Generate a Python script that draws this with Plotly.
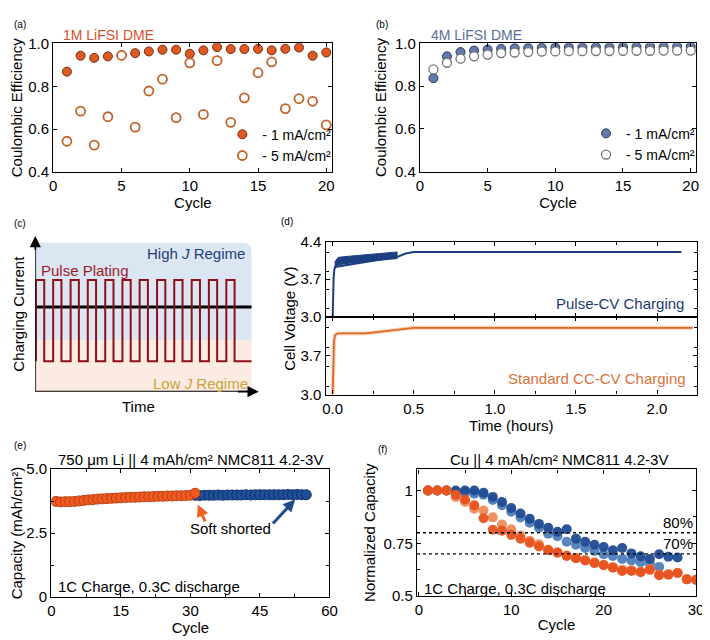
import plotly.graph_objects as go

# the page body adds an 8px margin, so positions below are screen pixels minus OFF
OFF = 8
W, H = 710 - OFF, 640 - OFF
FONT = "Liberation Sans"

# ---- (a) 1M LiFSI DME
cycles_ab = list(range(1, 21))
ce_1m_1ma = [0.868, 0.942, 0.932, 0.939, 0.944, 0.954, 0.962, 0.970, 0.970, 0.951,
             0.967, 0.982, 0.973, 0.973, 0.974, 0.967, 0.974, 0.980, 0.942, 0.957]
ce_1m_5ma = [0.544, 0.684, 0.526, 0.658, 0.944, 0.610, 0.778, 0.833, 0.654, 0.909,
             0.669, 0.919, 0.632, 0.746, 0.863, 0.913, 0.696, 0.742, 0.730, 0.620]

# ---- (b) 4M LiFSI DME
ce_4m_1ma = [0.837, 0.939, 0.959, 0.966, 0.971, 0.974, 0.977, 0.978, 0.979, 0.980,
             0.981, 0.981, 0.982, 0.982, 0.983, 0.983, 0.984, 0.984, 0.985, 0.985]
ce_4m_5ma = [0.878, 0.909, 0.928, 0.939, 0.947, 0.954, 0.957, 0.959, 0.961, 0.962,
             0.963, 0.963, 0.964, 0.964, 0.965, 0.965, 0.965, 0.966, 0.966, 0.966]

# ---- (c) schematic pulse plating
pulse_on = [0.03, 0.80, 1.58, 2.35, 3.13, 3.90, 4.67, 5.45, 6.22, 7.00, 7.77, 8.55]
pulse_off = [0.40, 1.17, 1.95, 2.72, 3.50, 4.27, 5.04, 5.82, 6.59, 7.37, 8.14, 8.92]
pulse_end = 9.68
j_high, j_low, j_avg = 7.17, 1.96, 5.44

# ---- (d) voltage profiles
t_band = [0.012, 0.035, 0.1, 0.2, 0.3, 0.4]
v_band_hi = [4.02, 4.11, 4.13, 4.16, 4.18, 4.21]
v_band_lo = [3.88, 3.96, 3.99, 4.02, 4.05, 4.08]
t_pulse = [0.0, 0.002, 0.006, 0.01, 0.015, 0.4, 0.45, 0.5, 2.15]
v_pulse = [3.0, 3.4, 3.75, 3.88, 3.93, 4.12, 4.18, 4.21, 4.21]
t_cccv = [0.0, 0.003, 0.008, 0.015, 0.03, 0.1, 0.2, 0.3, 0.4, 0.5, 0.6, 2.22]
v_cccv = [3.0, 3.6, 3.95, 4.07, 4.10, 4.10, 4.10, 4.13, 4.17, 4.20, 4.20, 4.20]

# ---- (e) 750 um Li capacity
cyc_e_orange = list(range(1, 32))
cap_e_orange = [3.74, 3.72, 3.73, 3.73, 3.74, 3.76, 3.78, 3.80, 3.81, 3.83, 3.84,
                3.85, 3.86, 3.87, 3.88, 3.89, 3.90, 3.90, 3.91, 3.92, 3.92, 3.93,
                3.94, 3.94, 3.95, 3.95, 3.96, 3.96, 3.97, 3.98, 4.06]
cyc_e_blue = list(range(31, 56))
cap_e_blue = [3.98, 3.97, 3.98, 3.98, 3.98, 3.99, 3.98, 3.99, 3.99, 3.99, 3.99,
              4.00, 3.99, 4.00, 4.00, 4.00, 4.00, 4.00, 4.00, 4.00, 4.01, 4.00,
              4.01, 4.00, 4.00]

# ---- (f) Cu normalized capacity
cyc_f = list(range(1, 31))
cap_blue_dark = [1.0, 1.0, 1.0, 1.0, 1.0, 1.0, 0.99, 0.97, 0.946, 0.917, 0.891, 0.866,
                 0.842, 0.824, 0.805, 0.817, 0.772, 0.757, 0.743, 0.732, 0.717, 0.728,
                 0.702, 0.688, 0.676, 0.698, 0.686, 0.683]
cap_blue_light = [1.0, 1.0, 1.0, 0.99, 0.99, 0.985, 0.98, 0.955, 0.93, 0.90, 0.872, 0.847,
                  0.824, 0.795, 0.783, 0.757, 0.743, 0.728, 0.713, 0.698, 0.69, 0.676,
                  0.668, 0.66, 0.653, 0.638]
cap_orange = [1.0, 1.0, 1.0, 0.98, 0.958, 0.93, 0.869, 0.814, 0.81, 0.79, 0.772, 0.753,
              0.735, 0.717, 0.705, 0.69, 0.679, 0.668, 0.656, 0.646, 0.634, 0.619,
              0.619, 0.613, 0.624, 0.598, 0.601, 0.609, 0.579, 0.576]
cap_orange_light = [1.0, 1.0, 1.0, 0.97, 0.946, 0.914, 0.906, 0.873, 0.839, 0.817, 0.787,
                    0.762, 0.745, 0.72, 0.708, 0.692, 0.68, 0.67, 0.66, 0.648, 0.638,
                    0.625, 0.622, 0.616, 0.628, 0.602, 0.604, 0.61, 0.58, 0.578]
thresholds = [0.8, 0.7]
threshold_labels = ["80%", "70%"]


def dx(l, r):
    return [(l - OFF) / W, (r - OFF) / W]


def dy(t, b):
    return [1 - (b - OFF) / H, 1 - (t - OFF) / H]


def px(x, y):
    return (x - OFF) / W, 1 - (y - OFF) / H


TF = dict(size=15, color="black")


def ax_style(**kw):
    d = dict(showline=True, linecolor="black", linewidth=1.3, mirror="ticks",
             ticks="inside", ticklen=4, tickcolor="black", showgrid=False,
             zeroline=False, tickfont=dict(size=15, color="black"))
    d.update(kw)
    return d


fig = go.Figure()

# (a)
fig.add_trace(go.Scatter(x=cycles_ab, y=ce_1m_1ma, mode="markers", name="- 1 mA/cm²",
                         marker=dict(size=9, color="#de5a25", line=dict(color="#7a2a0c", width=1)),
                         xaxis="x", yaxis="y", legend="legend"))
fig.add_trace(go.Scatter(x=cycles_ab, y=ce_1m_5ma, mode="markers", name="- 5 mA/cm²",
                         marker=dict(size=9, color="white", line=dict(color="#c0642c", width=1.8)),
                         xaxis="x", yaxis="y", legend="legend"))
# (b)
fig.add_trace(go.Scatter(x=cycles_ab, y=ce_4m_1ma, mode="markers", name="- 1 mA/cm²",
                         marker=dict(size=9, color="#6379a8", line=dict(color="#2c3b5e", width=1)),
                         xaxis="x2", yaxis="y2", legend="legend2"))
fig.add_trace(go.Scatter(x=cycles_ab, y=ce_4m_5ma, mode="markers", name="- 5 mA/cm²",
                         marker=dict(size=9, color="white", line=dict(color="#777777", width=1.3)),
                         xaxis="x2", yaxis="y2", legend="legend2"))

# (c) square wave
wx, wy = [pulse_on[0]], [j_low]
for on, off in zip(pulse_on, pulse_off):
    wx += [on, on, off, off]
    wy += [j_low, j_high, j_high, j_low]
wx.append(pulse_end)
wy.append(j_low)
fig.add_trace(go.Scatter(x=[0.05, pulse_end], y=[j_avg, j_avg], mode="lines",
                         line=dict(color="black", width=3), xaxis="x3", yaxis="y3",
                         showlegend=False))
fig.add_trace(go.Scatter(x=wx, y=wy, mode="lines", line=dict(color="#8c1018", width=2),
                         xaxis="x3", yaxis="y3", showlegend=False))

# (d)
fig.add_trace(go.Scatter(x=t_band, y=v_band_lo, mode="lines", line=dict(width=0, color="#1c3f82"),
                         xaxis="x4", yaxis="y4", showlegend=False))
fig.add_trace(go.Scatter(x=t_band, y=v_band_hi, mode="lines", fill="tonexty",
                         fillcolor="#1c3f82", line=dict(width=1, color="#1c3f82"),
                         xaxis="x4", yaxis="y4", showlegend=False))
fig.add_trace(go.Scatter(x=t_pulse, y=v_pulse, mode="lines", line=dict(width=2, color="#1c3f82"),
                         xaxis="x4", yaxis="y4", showlegend=False))
fig.add_trace(go.Scatter(x=t_cccv, y=v_cccv, mode="lines", line=dict(width=4, color="#f9d6ba"),
                         xaxis="x5", yaxis="y5", showlegend=False))
fig.add_trace(go.Scatter(x=t_cccv, y=v_cccv, mode="lines", line=dict(width=1.8, color="#e0682a"),
                         xaxis="x5", yaxis="y5", showlegend=False))

# (e)
fig.add_trace(go.Scatter(x=cyc_e_blue, y=cap_e_blue, mode="markers",
                         marker=dict(size=10, color="#1f4f99", line=dict(color="#10306a", width=1)),
                         xaxis="x6", yaxis="y6", showlegend=False))
fig.add_trace(go.Scatter(x=cyc_e_orange, y=cap_e_orange, mode="markers",
                         marker=dict(size=10, color="#f05a22", line=dict(color="#b8400f", width=1)),
                         xaxis="x6", yaxis="y6", showlegend=False))

# (f)
for xs, ys, col in [(cyc_f[:len(cap_blue_light)], cap_blue_light, "#4f7dbb"),
                    (cyc_f[:len(cap_blue_dark)], cap_blue_dark, "#1f4b92"),
                    (cyc_f, cap_orange_light, "#f08a58"),
                    (cyc_f, cap_orange, "#e8521e")]:
    fig.add_trace(go.Scatter(x=xs, y=ys, mode="markers",
                             marker=dict(size=10, color=col, opacity=0.95),
                             xaxis="x7", yaxis="y7", showlegend=False))

shapes = [
    # (c) regimes, blue one with a rounded top-right corner
    dict(type="path", xref="x3", yref="y3",
         path="M 0 3.3 L 0 9.56 L 9.3 9.56 Q 9.68 9.56 9.68 9.0 L 9.68 3.3 Z",
         fillcolor="#dce6f2", line=dict(width=0), layer="below"),
    dict(type="rect", xref="x3", yref="y3", x0=0, x1=pulse_end, y0=0, y1=3.3,
         fillcolor="#fcebe2", line=dict(width=0), layer="below"),
    # (c) axes
    dict(type="line", xref="x3", yref="y3", x0=0, x1=9.7, y0=0, y1=0,
         line=dict(color="black", width=1.6)),
    dict(type="line", xref="x3", yref="y3", x0=0, x1=0, y0=0, y1=9.5,
         line=dict(color="black", width=1.6)),
]
annotations = []
for lvl, lab in zip(thresholds, threshold_labels):
    shapes.append(dict(type="line", xref="x7 domain", yref="y7", x0=0, x1=1, y0=lvl, y1=lvl,
                       line=dict(color="black", width=1.3, dash="dot")))
    annotations.append(dict(xref="x7 domain", yref="y7", x=0.995, y=lvl, text=lab,
                            xanchor="right", yanchor="bottom", showarrow=False,
                            font=dict(size=15, color="black")))

# arrow heads of the (c) axes
annotations += [
    dict(xref="x3", yref="y3", axref="x3", ayref="y3", x=10, y=0, ax=9.0, ay=0, text="",
         showarrow=True, arrowhead=2, arrowsize=1.4, arrowwidth=1.6, arrowcolor="black"),
    dict(xref="x3", yref="y3", axref="x3", ayref="y3", x=0, y=10, ax=0, ay=9.0, text="",
         showarrow=True, arrowhead=2, arrowsize=1.4, arrowwidth=1.6, arrowcolor="black"),
]

# (e) arrows
annotations += [
    dict(xref="x6", yref="y6", axref="x6", ayref="y6", x=31.6, y=3.62, ax=33.3, ay=2.9,
         text="", showarrow=True, arrowhead=2, arrowsize=0.8, arrowwidth=3, arrowcolor="#f06020"),
    dict(xref="x6", yref="y6", axref="x6", ayref="y6", x=52.6, y=3.81, ax=47.5, ay=2.82,
         text="", showarrow=True, arrowhead=2, arrowsize=0.8, arrowwidth=3, arrowcolor="#1f4a8c"),
]


def txt(x, y, s, size=15, color="black", xanchor="center", yanchor="middle", angle=0):
    a, b = px(x, y)
    annotations.append(dict(xref="paper", yref="paper", x=a, y=b, text=s, showarrow=False,
                            xanchor=xanchor, yanchor=yanchor, textangle=angle,
                            font=dict(size=size, color=color)))


txt(8, 8, "(a)", 10, xanchor="left", yanchor="top")
txt(376, 8, "(b)", 10, xanchor="left", yanchor="top")
txt(8, 220, "(c)", 10, xanchor="left")
txt(280, 218, "(d)", 10, xanchor="left")
txt(8, 448, "(e)", 10, xanchor="left")
txt(378, 452, "(f)", 10, xanchor="left")
txt(58, 26, "1M LiFSI DME", 14, "#d4502a", xanchor="left")
txt(432, 26, "4M LiFSI DME", 14, "#5a6e9c", xanchor="left")
txt(247, 251, "High <i>J</i> Regime", 15, "#1f3d7a", xanchor="right")
txt(35, 268, "Pulse Plating", 15, "#9b1b2a", xanchor="left")
txt(250, 385, "Low <i>J</i> Regime", 15, "#c9a43c", xanchor="right")
txt(15, 313, "Charging Current", 15, angle=-90)
txt(137, 408, "Time", 15)
txt(290, 318, "Cell Voltage (V)", 15, angle=-90)
txt(694, 302, "Pulse-CV Charging", 15, "#1c3a6e", xanchor="right")
txt(696, 380, "Standard CC-CV Charging", 15, "#d9723a", xanchor="right")
txt(190, 463, "750 μm Li || 4 mAh/cm² NMC811 4.2-3V", 15)
txt(565, 463, "Cu || 4 mAh/cm² NMC811 4.2-3V", 15)
txt(53, 593, "1C Charge, 0.3C discharge", 15, xanchor="left")
txt(425, 595, "1C Charge, 0.3C discharge", 15, xanchor="left")
txt(230, 534, "Soft shorted", 15)

leg = dict(bgcolor="rgba(0,0,0,0)", font=dict(size=14, color="black"), itemwidth=30,
           tracegroupgap=0, traceorder="normal", yanchor="bottom", xanchor="left")
la, lb = px(222, 167)
la2, lb2 = px(592, 166)

fig.update_layout(
    width=W, height=H, autosize=False, margin=dict(l=0, r=0, t=0, b=0),
    paper_bgcolor="white", plot_bgcolor="rgba(0,0,0,0)",
    font=dict(family=FONT, size=15, color="black"),
    xaxis=ax_style(domain=dx(50, 334), range=[0, 20.45], dtick=5, tick0=0,
                   title=dict(text="Cycle", standoff=2, font=TF), anchor="y"),
    yaxis=ax_style(domain=dy(35, 167.5), range=[0.4, 1.0], dtick=0.2, tickformat=".1f",
                   title=dict(text="Coulombic Efficiency", standoff=4, font=TF), anchor="x"),
    xaxis2=ax_style(domain=dx(423, 704), range=[0, 20.4], dtick=5, tick0=0,
                    title=dict(text="Cycle", standoff=2, font=TF), anchor="y2"),
    yaxis2=ax_style(domain=dy(35, 167), range=[0.4, 1.0], dtick=0.2, tickformat=".1f",
                    title=dict(text="Coulombic Efficiency", standoff=4, font=TF), anchor="x2"),
    xaxis3=dict(domain=dx(31.7, 259), range=[0, 10], visible=False, anchor="y3"),
    yaxis3=dict(domain=dy(233, 393), range=[0, 10], visible=False, anchor="x3"),
    xaxis4=ax_style(domain=dx(327, 705), range=[-0.044, 2.247], dtick=0.5, tick0=0,
                    showticklabels=False, minor=dict(ticks="inside", dtick=0.25, ticklen=3),
                    anchor="y4"),
    yaxis4=ax_style(domain=dy(239, 316), range=[3.0, 4.4], tickvals=[3.0, 3.7, 4.4],
                    tickformat=".1f", minor=dict(ticks="inside", dtick=0.35, ticklen=3),
                    anchor="x4"),
    xaxis5=ax_style(domain=dx(327, 705), range=[-0.044, 2.247], dtick=0.5, tick0=0,
                    tickformat=".1f", minor=dict(ticks="inside", dtick=0.25, ticklen=3),
                    title=dict(text="Time (hours)", standoff=2, font=TF), anchor="y5"),
    yaxis5=ax_style(domain=dy(316, 396), range=[3.0, 4.4], tickvals=[3.0, 3.7],
                    tickformat=".1f", minor=dict(ticks="inside", dtick=0.35, ticklen=3),
                    anchor="x5"),
    xaxis6=ax_style(domain=dx(48, 331), range=[0, 60], dtick=15, tick0=0,
                    minor=dict(ticks="inside", dtick=7.5, ticklen=3),
                    title=dict(text="Cycle", standoff=2, font=TF), anchor="y6"),
    yaxis6=ax_style(domain=dy(472.7, 604), range=[0, 5], tickvals=[0, 2.5, 5],
                    ticktext=["0", "2.5", "5.0"], minor=dict(ticks="inside", dtick=1.25, ticklen=3),
                    title=dict(text="Capacity (mAh/cm²)", standoff=4, font=TF), anchor="x6"),
    xaxis7=ax_style(domain=dx(420, 704), range=[-0.2, 30], dtick=10, tick0=0,
                    minor=dict(ticks="inside", dtick=5, ticklen=3),
                    title=dict(text="Cycle", standoff=2, font=TF), anchor="y7"),
    yaxis7=ax_style(domain=dy(473, 603), range=[0.5, 1.1], tickvals=[0.5, 0.75, 1],
                    ticktext=["0.5", "0.75", "1"], minor=dict(ticks="inside", dtick=0.125, ticklen=3),
                    title=dict(text="Normalized Capacity", standoff=4, font=TF), anchor="x7"),
    legend=dict(leg, x=la, y=lb),
    legend2=dict(leg, x=la2, y=lb2),
    shapes=shapes,
    annotations=annotations,
)

fig.write_html("out.html")
